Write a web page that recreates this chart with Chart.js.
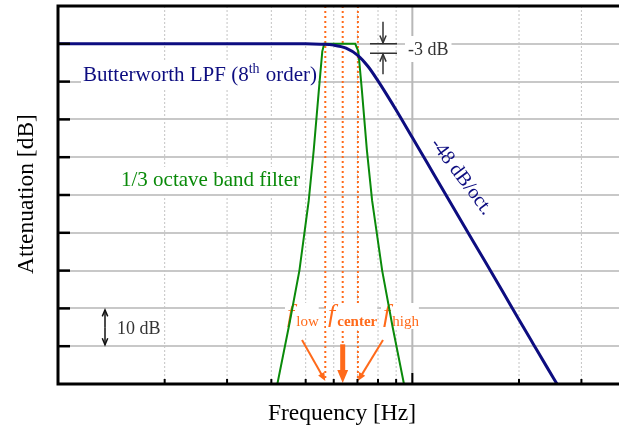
<!DOCTYPE html>
<html>
<head>
<meta charset="utf-8">
<script src="https://cdn.jsdelivr.net/npm/chart.js@4.4.1/dist/chart.umd.min.js"></script>
<style>
  html, body { margin: 0; padding: 0; background: #fff; }
</style>
</head>
<body>
<canvas id="chart" width="619" height="430"></canvas>
<script>
// Butterworth LPF, 8th order (relative frequency, attenuation in dB)
const bwFreq = [1, 4, 5, 5.5, 6, 6.5, 7, 7.5, 8, 8.5, 9, 10, 11, 12, 14, 16, 18, 20, 22, 24, 25.6];
const bwDb = [0, 0, 0, -0.1, -0.35, -1.15, -3, -6, -9.8, -13.7, -17.5, -24.8, -31.4, -37.5, -48.2, -57.4, -65.6, -73, -79.6, -85.6, -90];

// 1/3 octave band filter
const bandFreq = [4.16, 4.5, 4.8, 5.1, 5.27, 5.45, 5.57, 5.64, 6.9, 7.04, 7.2, 7.44, 7.7, 8.22, 8.8, 9.47];
const bandDb = [-90, -74, -60, -41.5, -28, -12, -2, 0, 0, -2, -12, -28, -41.5, -60, -75, -90];

// band edges and centre frequency
const markerFreq = [5.68, 6.36, 7.02];
const markerSub = ['low', 'center', 'high'];

const SERIF = '"Liberation Serif", "DejaVu Serif", serif';
const NAVY = '#0d0d80';
const GREEN = '#0a8a0a';
const ORANGE = '#ff6a1a';
const GREY = '#333';

// draws a run of text pieces with a white box behind them
function textRun(ctx, parts, x, y, pad) {
  let w = 0;
  parts.forEach(p => { ctx.font = p.font; p.w = ctx.measureText(p.t).width; w += p.w; });
  ctx.fillStyle = '#fff';
  ctx.fillRect(x - pad, y - 19, w + pad * 2, 26);
  let cx = x;
  parts.forEach(p => {
    ctx.font = p.font;
    ctx.fillStyle = p.color;
    ctx.fillText(p.t, cx, y + (p.dy || 0));
    cx += p.w + (p.gap || 0);
  });
}

function arrow(ctx, x1, y1, x2, y2, head, filled) {
  const ang = Math.atan2(y2 - y1, x2 - x1);
  ctx.beginPath();
  ctx.moveTo(x1, y1);
  ctx.lineTo(filled ? x2 - Math.cos(ang) * head * 0.8 : x2, filled ? y2 - Math.sin(ang) * head * 0.8 : y2);
  ctx.stroke();
  const a1 = ang + Math.PI - 0.4, a2 = ang + Math.PI + 0.4;
  ctx.beginPath();
  ctx.moveTo(x2 + Math.cos(a1) * head, y2 + Math.sin(a1) * head);
  ctx.lineTo(x2, y2);
  ctx.lineTo(x2 + Math.cos(a2) * head, y2 + Math.sin(a2) * head);
  if (filled) { ctx.closePath(); ctx.fill(); } else ctx.stroke();
}

const decor = {
  id: 'decor',
  beforeDatasetsDraw(chart) {
    const { ctx, chartArea: a, scales: { x, y } } = chart;
    ctx.save();

    // vertical grid from the log scale ticks
    x.ticks.forEach(t => {
      const v = t.value;
      if (v <= x.min) return;
      const m = v / Math.pow(10, Math.floor(Math.log10(v) + 1e-9));
      if (Math.abs(m - Math.round(m)) > 1e-6) return;
      const px = x.getPixelForValue(v);
      ctx.beginPath();
      if (Math.round(m) === 1) {
        ctx.setLineDash([]);
        ctx.strokeStyle = '#b8b8b8';
        ctx.lineWidth = 2;
      } else {
        ctx.setLineDash([2, 2]);
        ctx.strokeStyle = '#c4c4c4';
        ctx.lineWidth = 1;
      }
      ctx.moveTo(px, a.top);
      ctx.lineTo(px, a.bottom);
      ctx.stroke();
    });

    // orange dotted markers
    ctx.setLineDash([2, 3]);
    ctx.strokeStyle = ORANGE;
    ctx.lineWidth = 2;
    markerFreq.forEach((f, i) => {
      const px = x.getPixelForValue(f);
      ctx.beginPath();
      ctx.moveTo(px, a.top);
      ctx.lineTo(px, i === 1 ? y.getPixelForValue(-79.5) : a.bottom - 4);
      ctx.stroke();
    });
    ctx.setLineDash([]);

    ctx.textBaseline = 'alphabetic';
    // curve labels
    textRun(ctx, [
      { t: 'Butterworth LPF (8', font: '21px ' + SERIF, color: NAVY },
      { t: 'th', font: '14px ' + SERIF, color: NAVY, dy: -8, gap: 1 },
      { t: ' order)', font: '21px ' + SERIF, color: NAVY }
    ], 83, 81, 2);
    textRun(ctx, [{ t: '1/3 octave band filter', font: '21px ' + SERIF, color: GREEN }], 121, 186, 2);

    // slope label
    ctx.save();
    ctx.translate(430, 144);
    ctx.rotate(53 * Math.PI / 180);
    ctx.font = '20px ' + SERIF;
    ctx.fillStyle = NAVY;
    ctx.fillText('-48 dB/oct.', 0, 0);
    ctx.restore();

    // -3 dB mark
    const y0 = y.getPixelForValue(0), y3 = y.getPixelForValue(-2.5);
    ctx.strokeStyle = GREY;
    ctx.fillStyle = GREY;
    ctx.lineWidth = 1.5;
    ctx.beginPath();
    ctx.moveTo(370, y0); ctx.lineTo(397, y0);
    ctx.moveTo(370, y3); ctx.lineTo(397, y3);
    ctx.stroke();
    arrow(ctx, 383, y0 - 22, 383, y0 - 1, 8, false);
    arrow(ctx, 383, y3 + 21, 383, y3 + 1, 8, false);
    textRun(ctx, [{ t: '-3 dB', font: '18px ' + SERIF, color: GREY }], 408, 55, 3);

    // 10 dB scale mark
    ctx.strokeStyle = '#111';
    arrow(ctx, 105, y.getPixelForValue(-75), 105, y.getPixelForValue(-70) + 1.5, 7, false);
    arrow(ctx, 105, y.getPixelForValue(-75), 105, y.getPixelForValue(-80) - 1.5, 7, false);
    textRun(ctx, [{ t: '10 dB', font: '18px ' + SERIF, color: GREY }], 117, 334, 2);

    // f labels
    const starts = [287, 328, 383];
    markerSub.forEach((s, i) => {
      textRun(ctx, [
        { t: 'f', font: 'italic 26px ' + SERIF, color: ORANGE, gap: 2 },
        { t: s, font: (i === 1 ? 'bold ' : '') + '15px ' + SERIF, color: ORANGE, dy: 4 }
      ], starts[i], 322, 2);
    });

    // orange arrows
    ctx.strokeStyle = ORANGE;
    ctx.fillStyle = ORANGE;
    ctx.lineWidth = 2;
    arrow(ctx, 302, 340, x.getPixelForValue(markerFreq[0]), a.bottom - 3, 9, true);
    arrow(ctx, 383, 340, x.getPixelForValue(markerFreq[2]), a.bottom - 3, 9, true);
    ctx.lineWidth = 5;
    arrow(ctx, x.getPixelForValue(markerFreq[1]), y.getPixelForValue(-79.5), x.getPixelForValue(markerFreq[1]), a.bottom - 1, 14, true);

    ctx.restore();
  },
  afterDatasetsDraw(chart) {
    const { ctx, chartArea: a, scales: { x, y } } = chart;
    ctx.save();
    ctx.strokeStyle = '#000';
    // inward y ticks
    ctx.lineWidth = 2.5;
    y.ticks.forEach(t => {
      if (t.value <= y.min || t.value >= y.max) return;
      const py = y.getPixelForValue(t.value);
      ctx.beginPath();
      ctx.moveTo(a.left, py);
      ctx.lineTo(a.left + 12, py);
      ctx.stroke();
    });
    // inward x ticks
    ctx.lineWidth = 2;
    x.ticks.forEach(t => {
      const v = t.value;
      if (v <= x.min) return;
      const m = v / Math.pow(10, Math.floor(Math.log10(v) + 1e-9));
      if (Math.abs(m - Math.round(m)) > 1e-6) return;
      const px = x.getPixelForValue(v);
      ctx.beginPath();
      ctx.moveTo(px, a.bottom);
      ctx.lineTo(px, a.bottom - (Math.round(m) === 1 ? 11 : 5));
      ctx.stroke();
    });
    // frame: left, bottom and top
    ctx.lineWidth = 3;
    ctx.beginPath();
    ctx.moveTo(a.right, a.top);
    ctx.lineTo(a.left, a.top);
    ctx.lineTo(a.left, a.bottom);
    ctx.lineTo(a.right, a.bottom);
    ctx.stroke();

    // axis titles
    ctx.fillStyle = '#000';
    ctx.font = '23.5px ' + SERIF;
    ctx.textAlign = 'center';
    ctx.textBaseline = 'alphabetic';
    ctx.fillText('Frequency [Hz]', 342, 420);
    ctx.save();
    ctx.translate(33, 194);
    ctx.rotate(-Math.PI / 2);
    ctx.fillText('Attenuation [dB]', 0, 0);
    ctx.restore();
    ctx.restore();
  }
};

new Chart(document.getElementById('chart'), {
  type: 'line',
  data: {
    datasets: [
      {
        label: 'Butterworth LPF (8th order)',
        data: bwFreq.map((f, i) => ({ x: f, y: bwDb[i] })),
        borderColor: NAVY,
        borderWidth: 3,
        pointRadius: 0,
        fill: false,
        cubicInterpolationMode: 'monotone'
      },
      {
        label: '1/3 octave band filter',
        data: bandFreq.map((f, i) => ({ x: f, y: bandDb[i] })),
        borderColor: GREEN,
        borderWidth: 2,
        pointRadius: 0,
        fill: false,
        tension: 0
      }
    ]
  },
  options: {
    responsive: false,
    animation: false,
    layout: { padding: { top: 6, right: 0, bottom: 0, left: 0 } },
    plugins: { legend: { display: false }, tooltip: { enabled: false } },
    scales: {
      x: {
        type: 'logarithmic',
        min: 1,
        max: 38.3,
        ticks: { display: false },
        grid: { display: false },
        border: { display: false },
        afterFit: s => { s.height = 46; }
      },
      y: {
        min: -90,
        max: 10,
        ticks: { display: false, stepSize: 10 },
        grid: { color: '#c8c8c8', lineWidth: 2, drawTicks: false },
        border: { display: false },
        afterFit: s => { s.width = 58; }
      }
    }
  },
  plugins: [decor]
});
</script>
</body>
</html>
